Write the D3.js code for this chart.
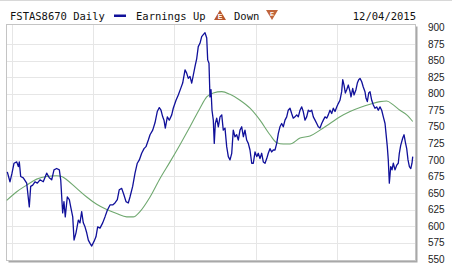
<!DOCTYPE html>
<html><head><meta charset="utf-8">
<script src="https://cdn.jsdelivr.net/npm/d3@7"></script>
<style>html,body{margin:0;padding:0;background:#fff;}svg{display:block;}</style>
</head><body><svg id="c" width="452" height="270"></svg>
<script>
// time in decimal years, values = index level
const priceT = [2010.942,2010.975,2011.000,2011.025,2011.058,2011.078,2011.090,2011.107,2011.139,2011.181,2011.213,2011.230,2011.255,2011.283,2011.312,2011.345,2011.385,2011.427,2011.459,2011.489,2011.517,2011.550,2011.583,2011.600,2011.624,2011.640,2011.656,2011.681,2011.706,2011.723,2011.748,2011.764,2011.788,2011.817,2011.837,2011.858,2011.878,2011.899,2011.920,2011.940,2011.961,2011.982,2012.010,2012.034,2012.055,2012.084,2012.117,2012.145,2012.174,2012.207,2012.240,2012.268,2012.297,2012.321,2012.351,2012.379,2012.404,2012.432,2012.453,2012.486,2012.515,2012.543,2012.568,2012.597,2012.626,2012.650,2012.679,2012.700,2012.733,2012.761,2012.789,2012.814,2012.835,2012.856,2012.872,2012.888,2012.913,2012.937,2012.967,2012.986,2013.020,2013.048,2013.078,2013.102,2013.131,2013.151,2013.171,2013.192,2013.213,2013.233,2013.254,2013.275,2013.294,2013.315,2013.336,2013.356,2013.377,2013.398,2013.410,2013.426,2013.438,2013.451,2013.463,2013.479,2013.491,2013.504,2013.521,2013.541,2013.562,2013.583,2013.602,2013.623,2013.644,2013.664,2013.685,2013.706,2013.725,2013.746,2013.767,2013.787,2013.808,2013.829,2013.849,2013.869,2013.890,2013.910,2013.931,2013.952,2013.972,2013.993,2014.014,2014.033,2014.054,2014.075,2014.095,2014.116,2014.137,2014.156,2014.177,2014.198,2014.218,2014.239,2014.260,2014.280,2014.300,2014.321,2014.341,2014.362,2014.383,2014.402,2014.424,2014.444,2014.464,2014.485,2014.506,2014.526,2014.547,2014.568,2014.587,2014.608,2014.629,2014.649,2014.670,2014.691,2014.711,2014.732,2014.753,2014.772,2014.793,2014.814,2014.834,2014.855,2014.876,2014.895,2014.916,2014.937,2014.957,2014.978,2014.999,2015.018,2015.039,2015.060,2015.073,2015.089,2015.105,2015.122,2015.142,2015.163,2015.175,2015.196,2015.212,2015.236,2015.253,2015.270,2015.286,2015.307,2015.326,2015.347,2015.360,2015.376,2015.393,2015.409,2015.430,2015.450,2015.470,2015.491,2015.511,2015.532,2015.553,2015.573,2015.594,2015.606,2015.622,2015.634,2015.647,2015.664,2015.680,2015.696,2015.717,2015.738,2015.757,2015.770,2015.787,2015.812,2015.828,2015.844,2015.861,2015.877,2015.894,2015.911,2015.926,2015.935];
const priceV = [682,667,680,695,697,690,697,675,673,665,629,660,662,667,665,670,667,680,673,670,685,687,685,670,620,637,614,644,640,629,614,579,590,609,605,622,605,599,590,579,574,570,577,584,599,597,605,614,624,632,632,635,640,655,657,647,637,635,644,660,680,695,700,710,717,720,730,738,745,756,773,779,775,765,760,748,765,760,768,778,790,798,808,816,836,831,823,826,816,828,841,853,871,876,886,889,892,884,851,846,795,806,775,760,725,755,763,750,765,768,745,748,720,705,700,710,745,735,738,730,745,750,735,745,730,725,715,695,695,712,705,710,702,710,697,695,702,710,717,712,715,715,725,740,750,755,750,760,765,775,778,770,763,765,768,765,775,780,773,760,765,775,773,775,765,760,755,750,748,755,760,765,763,768,775,770,778,773,780,785,790,803,821,813,801,806,813,803,795,808,798,806,816,821,823,818,810,803,793,788,801,803,790,783,778,780,775,780,775,765,755,740,720,700,665,690,685,695,685,692,695,710,722,733,738,727,717,700,690,687,695,705];
const maT = [2010.935,2011.058,2011.181,2011.304,2011.427,2011.550,2011.612,2011.674,2011.797,2011.920,2012.043,2012.166,2012.289,2012.413,2012.494,2012.576,2012.700,2012.823,2012.946,2013.069,2013.192,2013.315,2013.398,2013.479,2013.583,2013.685,2013.808,2013.931,2014.054,2014.177,2014.260,2014.341,2014.424,2014.547,2014.670,2014.793,2014.916,2015.039,2015.163,2015.286,2015.409,2015.532,2015.614,2015.696,2015.778,2015.861,2015.935];
const maV = [639,652,662,671,675,676,675,670,657,644,633,625,619,614,614,622,644,672,697,723,750,778,795,801,803,799,790,778,760,738,726,724,724,733,736,745,755,765,773,779,784,788,789,783,775,768,758];
const yTicks = [900,875,850,825,800,775,750,725,700,675,650,625,600,575,550];
const yearLines = [2011,2012,2013,2014,2015];
const title = "FSTAS8670 Daily";
const dateLabel = "12/04/2015";

const svg = d3.select("#c");
const x = d3.scaleLinear().domain([2011, 2015]).range([12, 336.8]);
const y = d3.scaleLinear().domain([550, 900]).range([259.3, 27.4]);

// top hairline
svg.append("line").attr("x1",0).attr("x2",452).attr("y1",0.5).attr("y2",0.5).attr("stroke","#d8d8d8");

// frame shadow
svg.append("rect").attr("x",8.5).attr("y",26.5).attr("width",409).attr("height",236).attr("fill","#a8a8a8");
svg.append("rect").attr("x",6.5).attr("y",24.5).attr("width",409).attr("height",236).attr("fill","#fff").attr("stroke","#c4c4c4");

// grid
svg.append("g").selectAll("line").data(yTicks.slice(1,-1)).join("line")
  .attr("x1",7).attr("x2",415).attr("y1",d=>Math.round(y(d))+0.5).attr("y2",d=>Math.round(y(d))+0.5)
  .attr("stroke","#e6e6e6");
svg.append("g").selectAll("line").data(yearLines).join("line")
  .attr("x1",d=>Math.round(x(d))+0.5).attr("x2",d=>Math.round(x(d))+0.5).attr("y1",25).attr("y2",260)
  .attr("stroke","#e6e6e6");

// right axis labels
const yAxis = d3.axisRight(y).tickValues(yTicks).tickSize(0).tickPadding(0);
const ag = svg.append("g").attr("transform","translate(428,0)").call(yAxis);
ag.select(".domain").remove();
ag.selectAll("text").attr("font-family","Liberation Sans, Arial, sans-serif").attr("font-size",10).attr("fill","#222");

// lines
const maLine = d3.line().x((d,i)=>x(maT[i])).y(d=>y(d)).curve(d3.curveMonotoneX);
svg.append("path").datum(maV).attr("d",maLine).attr("fill","none").attr("stroke","#6fa86f").attr("stroke-width",1.1);
const pLine = d3.line().x((d,i)=>x(priceT[i])).y(d=>y(d));
svg.append("path").datum(priceV).attr("d",pLine).attr("fill","none").attr("stroke","#10109a").attr("stroke-width",1.3).attr("stroke-linejoin","round");

// header
const hf = "DejaVu Sans Mono, monospace";
svg.append("text").attr("x",10).attr("y",20).attr("font-family",hf).attr("font-size",10.5).attr("fill","#111").text(title);
svg.append("rect").attr("x",114).attr("y",14.5).attr("width",12).attr("height",2.5).attr("fill","#10109a");
svg.append("text").attr("x",136).attr("y",20).attr("font-family",hf).attr("font-size",10.5).attr("fill","#111").text("Earnings Up");
const up = svg.append("g").attr("transform","translate(220,20)");
up.append("path").attr("d","M-6,0 L6,0 L0,-10 Z").attr("fill","#b8562c");
up.append("text").attr("x",0).attr("y",-1).attr("text-anchor","middle").attr("font-family","Liberation Sans, sans-serif").attr("font-size",7).attr("font-weight","bold").attr("fill","#fff").text("E");
svg.append("text").attr("x",234).attr("y",20).attr("font-family",hf).attr("font-size",10.5).attr("fill","#111").text("Down");
const dn = svg.append("g").attr("transform","translate(272,10)");
dn.append("path").attr("d","M-6,0 L6,0 L0,10 Z").attr("fill","#c0643a");
dn.append("text").attr("x",0).attr("y",6).attr("text-anchor","middle").attr("font-family","Liberation Sans, sans-serif").attr("font-size",6).attr("font-weight","bold").attr("fill","#fff").text("E");
svg.append("text").attr("x",416).attr("y",20).attr("text-anchor","end").attr("font-family",hf).attr("font-size",10.5).attr("fill","#111").text(dateLabel);
</script></body></html>
